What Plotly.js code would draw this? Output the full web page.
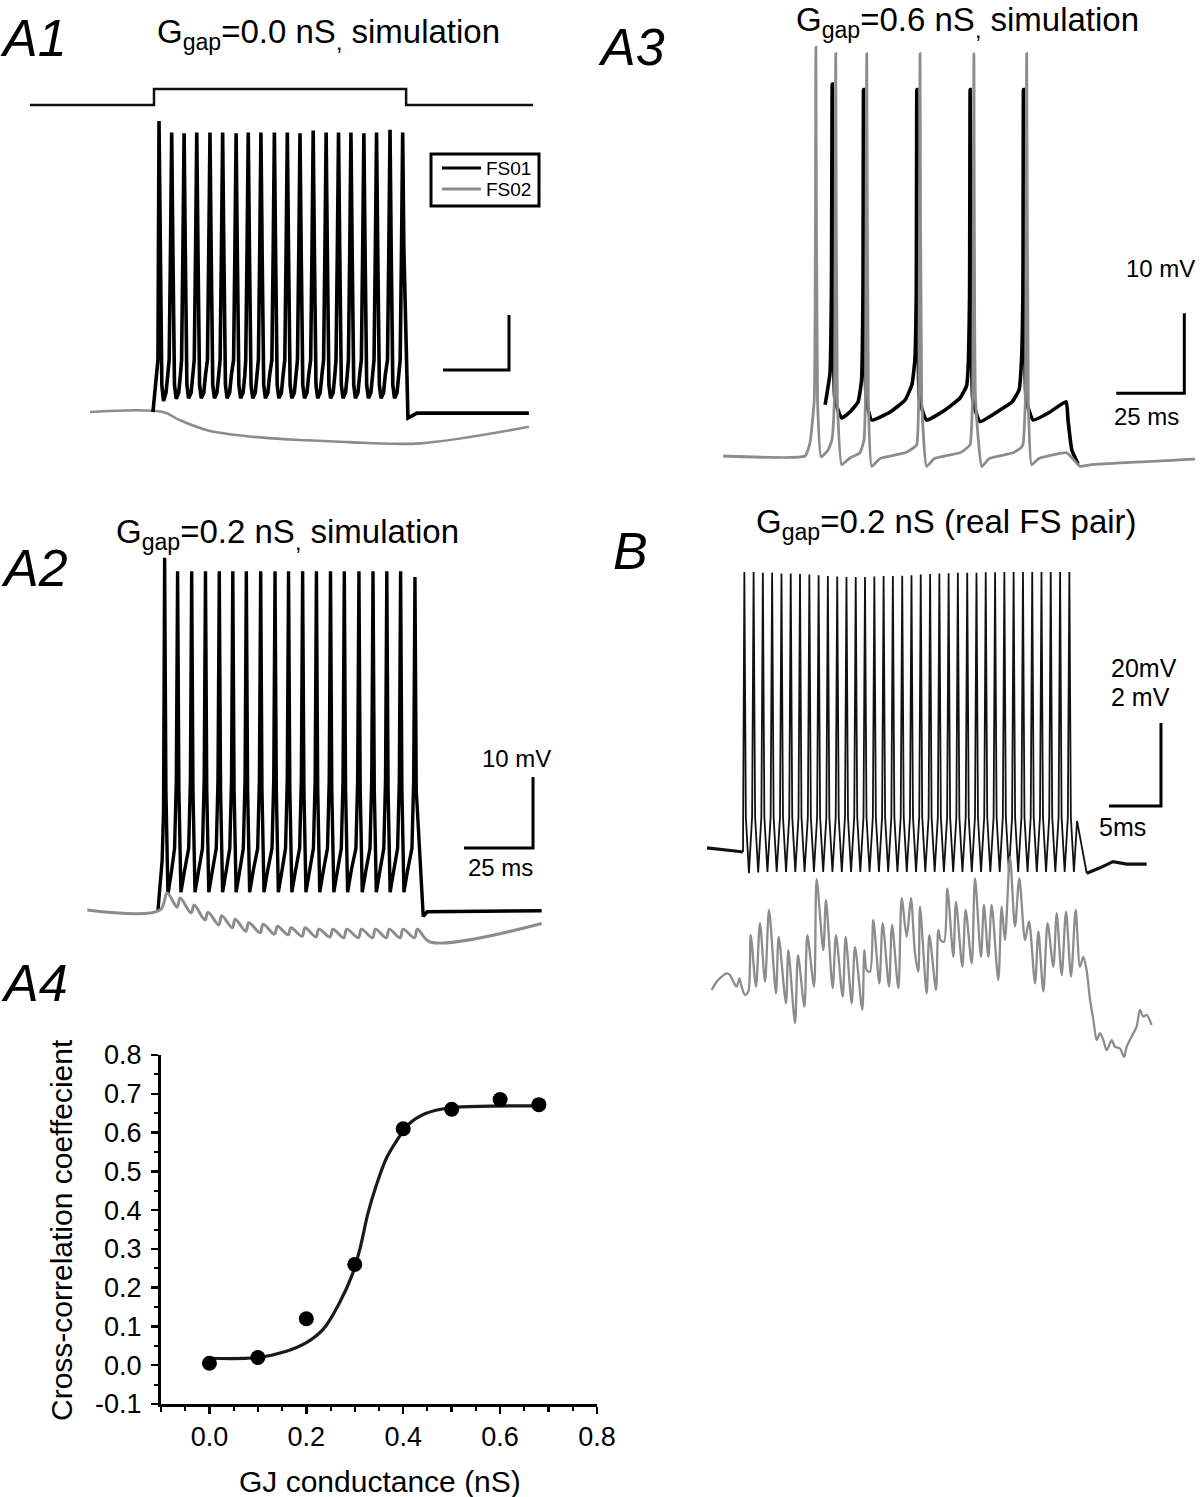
<!DOCTYPE html>
<html>
<head>
<meta charset="utf-8">
<script src="https://cdn.plot.ly/plotly-3.0.1.min.js"></script>
<style>
html,body{margin:0;padding:0;background:#fff;}
#chart{width:1200px;height:1497px;}
</style>
</head>
<body>
<div id="chart"></div>
<script>
// ======================= DATA =======================
// ---- A1 : Ggap = 0.0 nS (time in ms, membrane potential in mV) ----
const a1StimT      = [-47.0, 0, 0, 95.5, 95.5, 143.6];
const a1StimLevel  = [0, 0, 1, 1, 0, 0];               // normalised current step
const a1SpikeT     = [1.9, 6.7, 11.4, 16.2, 21.2, 26.0, 31.1, 35.7, 40.5, 45.6, 50.5, 55.3, 60.3, 65.2, 69.9, 74.6, 79.5, 84.3, 89.4, 94.2];
const a1PeakV      = [-17.1, -19.2, -19.3, -19.2, -19.2, -19.2, -19.3, -19.2, -19.2, -19.2, -19.2, -19.3, -18.8, -19.2, -19.2, -19.2, -19.3, -19.2, -18.7, -19.2];
const a1TroughV    = [-68.0, -67.6, -67.5, -67.5, -67.5, -67.5, -67.5, -67.5, -67.5, -67.5, -67.5, -67.5, -67.5, -67.5, -67.5, -67.5, -67.5, -67.5, -67.5, -67.5];
const a1ShapeDt    = [-0.95, -0.45, 0, 0.45, 1.06, 1.7, 2.65, 3.3];
const a1ShapeV     = [-60.5, -40.5, 'peak', -40.5, -65.1, 'trough', -66.5, -63.3];
const a1LeadT      = [-0.4, 1.5];
const a1LeadV      = [-70.0, -60.5];
const a1TailT      = [96.2, 99.6, 142.0];
const a1TailV      = [-71.1, -70.2, -70.2];
const a1GrayT      = [-24.2, 3.4, 9.8, 20.1, 35.2, 51.5, 70.5, 79.2, 100.8, 142.0];
const a1GrayV      = [-70.0, -70.0, -71.5, -73.3, -74.4, -75.0, -75.4, -75.6, -75.7, -72.7];

// ---- A2 : Ggap = 0.2 nS ----
const a2SpikeT     = [2.4, 7.1, 12.2, 17.2, 22.2, 27.1, 32.0, 37.2, 42.4, 47.3, 52.4, 57.4, 62.5, 67.5, 72.8, 77.9, 82.9, 87.9, 93.1];
const a2PeakV      = [-20.4, -22.3, -22.3, -22.3, -22.3, -22.3, -22.3, -22.3, -22.3, -22.3, -22.3, -22.3, -22.3, -22.3, -22.3, -22.3, -22.3, -22.3, -23.1];
const a2TroughV    = [-67.8, -67.5, -67.5, -67.5, -67.5, -67.5, -67.5, -67.5, -67.5, -67.5, -67.5, -67.5, -67.5, -67.5, -67.5, -67.5, -67.5, -67.5, -67.5];
const a2ShapeDt    = [-1.09, -0.47, 0, 0.47, 0.94, 1.2, 2.54];
const a2ShapeV     = [-61.3, -51.7, 'peak', -53.1, -66.5, 'trough', -64.4];
const a2LeadT      = [0.0, 1.5, 2.0];
const a2LeadV      = [-70.0, -63.0, -56.0];
const a2TailT      = [96.1, 97.5, 139.0];
const a2TailV      = [-70.9, -70.25, -70.1];
const a2GrayLeadT  = [-25.6, 0.7];
const a2GrayLeadV  = [-70.0, -70.0];
const a2GrayPeakV  = [-67.6, -68.3, -69.3, -70.3, -70.8, -71.3, -71.8, -72.0, -72.3, -72.5, -72.5, -72.7, -72.7, -72.7, -72.7, -72.7, -72.7, -72.7, -72.7];
const a2GrayTroughV= [-69.6, -70.4, -71.4, -72.1, -72.5, -73.0, -73.2, -73.4, -73.5, -73.7, -73.8, -73.8, -73.9, -73.9, -73.9, -73.9, -73.9, -73.9];
const a2GrayTailT  = [98.6, 139.0];
const a2GrayTailV  = [-74.5, -71.9];

// ---- A3 : Ggap = 0.6 nS ----
const a3BlackT = [7.4, 9.2, 9.7, 10.0, 10.4, 11.0, 13.5, 16.5, 19.5, 20.8, 21.3, 21.5, 21.9, 22.5, 24.5, 31.3, 36.8, 39.3, 40.4, 40.9, 41.1, 41.5, 42.1, 44.7, 51.5, 57.0, 59.4, 60.1, 60.5, 60.7, 61.1, 61.7, 64.3, 71.7, 76.1, 78.7, 79.6, 80.1, 80.3, 80.7, 81.3, 83.9, 90.1, 96.0, 96.7, 98.1, 100.4];
const a3BlackV = [-63.6, -59.6, -50, -23.5, -45, -63, -65.25, -64.5, -63.25, -60.5, -50, -24.2, -45, -63, -65.5, -64.5, -63.0, -61.1, -58.0, -50, -24.2, -45, -63, -65.5, -64.25, -62.75, -61.25, -58.0, -50, -24.2, -45, -63, -65.7, -64.25, -63.25, -61.75, -58.0, -50, -24.2, -45, -63, -65.5, -64.5, -63.2, -65.5, -69.25, -71.0];
const a3GrayT  = [-30.1, 0, 1.8, 3.4, 4.0, 4.6, 5.9, 8.5, 9.9, 10.8, 11.3, 11.9, 13.5, 16.5, 20.2, 21.7, 22.2, 22.7, 23.3, 24.5, 27.6, 36.8, 39.8, 41.1, 41.8, 42.3, 42.9, 44.7, 47.6, 57.0, 59.5, 60.7, 61.6, 62.1, 62.7, 65.0, 67.8, 76.5, 79.3, 80.1, 81.0, 81.5, 82.1, 83.3, 86.0, 96.2, 98.2, 101.1, 104.8, 143.4];
const a3GrayV  = [-70, -70, -68.4, -63, -18.9, -63, -70.1, -69.25, -68, -63, -19.7, -63, -71.1, -70.25, -69.6, -68, -63, -19.7, -63, -71.3, -70.3, -69.6, -69.0, -68.6, -63, -19.7, -63, -71.3, -70.3, -69.6, -69.0, -68.6, -63, -19.7, -63, -71.3, -70.3, -69.6, -69.0, -68.6, -63, -19.7, -63, -71.1, -70.3, -69.6, -70.25, -71.3, -71.1, -70.4];

// ---- B : real FS pair, Ggap = 0.2 nS ----
const bSpikeT  = [0.13, 1.02, 1.91, 2.80, 3.70, 4.59, 5.48, 6.38, 7.27, 8.16, 9.06, 9.95, 10.84, 11.73, 12.63, 13.52, 14.41, 15.31, 16.20, 17.09, 17.99, 18.88, 19.77, 20.66, 21.56, 22.45, 23.34, 24.24, 25.13, 26.02, 26.92, 27.81, 28.70, 29.59, 30.49, 31.38];
const bPeakV   = [2.0, 2.0, 1.8, 1.8, 1.6, 1.6, 1.5, 1.4, 1.2, 1.0, 0.9, 0.8, 0.8, 0.8, 0.9, 1.0, 1.0, 1.1, 1.2, 1.4, 1.5, 1.6, 1.7, 1.8, 1.8, 1.8, 1.9, 1.9, 2.0, 2.0, 2.0, 2.0, 2.0, 2.0, 2.0, 2.0];
const bTroughV = [-70.6, -70.4, -70.3, -70.3, -70.3, -70.3, -70.3, -70.3, -70.3, -70.3, -70.3, -70.3, -70.3, -70.3, -70.3, -70.3, -70.3, -70.3, -70.3, -70.3, -70.3, -70.3, -70.3, -70.3, -70.3, -70.3, -70.3, -70.3, -70.3, -70.3, -70.3, -70.3, -70.3, -70.3, -70.3, -70.3];
const bShapeDt = [-0.144, 0, 0.144, 0.44];
const bShapeV  = [-57.05, 'peak', -57.05, 'trough'];
const bLeadT   = [0.0];
const bLeadV   = [-65.48];
const bTailT   = [32.12, 33.05];
const bTailV   = [-58.0, -70.6];
const bPreT    = [-3.46, -2.21, -0.77, 0.0];
const bPreV    = [-64.5, -64.76, -65.24, -65.48];
const bPostT   = [33.05, 34.33, 35.58, 36.89, 38.82];
const bPostV   = [-70.6, -69.3, -67.8, -68.4, -68.4];
const bGrayT = [-3.01, -2.53, -2.05, -1.57, -1.25, -0.93, -0.61, -0.35, -0.13, 0.19, 0.51, 0.74, 1.25, 1.63, 2.12, 2.50, 3.17, 3.43, 4.13, 4.36, 5.00, 5.29, 5.90, 6.19, 6.83, 7.08, 7.72, 7.98, 8.62, 8.94, 9.58, 9.87, 10.45, 10.77, 11.47, 11.67, 11.89, 12.21, 12.53, 13.11, 13.43, 14.04, 14.33, 14.94, 15.26, 15.74, 16.15, 16.54, 16.86, 17.02, 17.66, 17.92, 18.56, 18.78, 19.01, 19.33, 19.65, 20.22, 20.48, 21.09, 21.41, 21.99, 22.31, 22.88, 23.17, 23.59, 23.91, 24.55, 24.87, 25.19, 25.67, 26.15, 26.57, 27.12, 27.50, 28.08, 28.40, 28.88, 29.29, 29.84, 30.16, 30.64, 31.06, 31.54, 31.99, 32.40, 32.72, 33.04, 33.37, 33.69, 34.01, 34.33, 34.65, 34.97, 35.45, 35.77, 36.25, 36.63, 36.89, 37.37, 37.85, 38.17, 38.49, 38.81, 39.29];
const bGrayV = [-65.12, -64.92, -64.80, -64.72, -64.76, -64.92, -65.04, -64.84, -65.04, -65.24, -65.16, -63.80, -65.04, -63.51, -64.92, -63.19, -65.20, -63.84, -65.44, -64.16, -65.92, -64.28, -65.52, -63.80, -65.04, -62.45, -64.16, -62.95, -65.08, -63.80, -65.28, -63.84, -65.44, -64.08, -65.60, -64.16, -64.64, -64.68, -63.43, -64.96, -63.51, -65.04, -63.55, -65.08, -62.91, -63.84, -62.91, -64.24, -64.68, -63.11, -65.20, -63.80, -65.12, -63.67, -63.92, -63.96, -62.67, -64.32, -62.99, -64.56, -63.19, -64.48, -62.43, -64.32, -63.07, -64.32, -63.07, -64.88, -63.11, -63.92, -61.91, -63.59, -62.43, -63.92, -63.47, -64.96, -63.71, -65.16, -63.51, -64.56, -63.27, -64.76, -63.23, -64.80, -63.19, -64.56, -64.32, -64.64, -65.36, -65.84, -66.33, -66.16, -66.33, -66.57, -66.33, -66.49, -66.53, -66.73, -66.49, -66.24, -66.00, -65.60, -65.76, -65.72, -65.96];

// ---- A4 : cross-correlation vs GJ conductance ----
const gjConductance = [0.0, 0.1, 0.2, 0.3, 0.4, 0.5, 0.6, 0.68];
const crossCorr     = [0.005, 0.02, 0.12, 0.26, 0.61, 0.66, 0.685, 0.672];
const fitX = [0.0, 0.1, 0.159, 0.2, 0.235, 0.268, 0.294, 0.311, 0.327, 0.344, 0.365, 0.386, 0.412, 0.446, 0.496, 0.58, 0.686];
const fitY = [0.018, 0.02, 0.036, 0.058, 0.093, 0.16, 0.231, 0.302, 0.391, 0.462, 0.533, 0.578, 0.622, 0.649, 0.664, 0.668, 0.669];
const xLabelTickVals = [0.0, 0.2, 0.4, 0.6, 0.8];
const xLabelTickText = ['0.0', '0.2', '0.4', '0.6', '0.8'];
const xPlainTickVals = [-0.1, 0.1, 0.3, 0.5, 0.7];
const yTickVals = [-0.1, 0.0, 0.1, 0.2, 0.3, 0.4, 0.5, 0.6, 0.7, 0.8];
const yTickText = ['-0.1', '0.0', '0.1', '0.2', '0.3', '0.4', '0.5', '0.6', '0.7', '0.8'];
const minorTickVals = [-0.05, 0.05, 0.15, 0.25, 0.35, 0.45, 0.55, 0.65, 0.75];

// ---- text ----
const legendNames = ['FS01', 'FS02'];
const titleA1 = 'G<sub>gap</sub>=0.0 nS<sub>,</sub> simulation';
const titleA2 = 'G<sub>gap</sub>=0.2 nS<sub>,</sub> simulation';
const titleA3 = 'G<sub>gap</sub>=0.6 nS<sub>,</sub> simulation';
const titleB  = 'G<sub>gap</sub>=0.2 nS (real FS pair)';

// ======================= BUILDERS =======================
function buildTrain(o){
  const t = o.leadT.slice(), v = o.leadV.slice();
  const n = o.spikeT.length;
  o.spikeT.forEach((tp, i) => {
    o.shapeDt.forEach((d, k) => {
      if (i === 0 && d < 0) return;
      if (i === n - 1 && d > o.lastDtMax) return;
      const s = o.shapeV[k];
      t.push(+(tp + d).toFixed(3));
      v.push(s === 'peak' ? o.peakV[i] : (s === 'trough' ? o.troughV[i] : s));
    });
  });
  return {t: t.concat(o.tailT), v: v.concat(o.tailV)};
}
function buildRipple(o){
  const t = o.leadT.slice(), v = o.leadV.slice();
  const n = o.spikeT.length;
  o.spikeT.forEach((tp, i) => {
    t.push(+(tp + o.lag).toFixed(3)); v.push(o.peakV[i]);
    if (i < n - 1) { t.push(+(o.spikeT[i + 1] - o.pre).toFixed(3)); v.push(o.troughV[i]); }
  });
  return {t: t.concat(o.tailT), v: v.concat(o.tailV)};
}

const a1Black = buildTrain({leadT:a1LeadT, leadV:a1LeadV, spikeT:a1SpikeT, peakV:a1PeakV, troughV:a1TroughV,
  shapeDt:a1ShapeDt, shapeV:a1ShapeV, lastDtMax:0.45, tailT:a1TailT, tailV:a1TailV});
const a2Black = buildTrain({leadT:a2LeadT, leadV:a2LeadV, spikeT:a2SpikeT, peakV:a2PeakV, troughV:a2TroughV,
  shapeDt:a2ShapeDt, shapeV:a2ShapeV, lastDtMax:0.47, tailT:a2TailT, tailV:a2TailV});
const a2Gray = buildRipple({leadT:a2GrayLeadT, leadV:a2GrayLeadV, spikeT:a2SpikeT, lag:0.9, pre:0.2,
  peakV:a2GrayPeakV, troughV:a2GrayTroughV, tailT:a2GrayTailT, tailV:a2GrayTailV});
const bBlack = buildTrain({leadT:bLeadT, leadV:bLeadV, spikeT:bSpikeT, peakV:bPeakV, troughV:bTroughV,
  shapeDt:bShapeDt, shapeV:bShapeV, lastDtMax:0.44, tailT:bTailT, tailV:bTailV});

// ======================= LAYOUT HELPERS =======================
const W = 1200, H = 1497;
const FONT = 'Liberation Sans, Arial, Helvetica, sans-serif';
const BLACK = '#000000', GRAY = '#8c8c8c';
const dx = (a, b) => [a / W, b / W];
const dy = (top, bottom) => [1 - bottom / H, 1 - top / H];
const hid = (o) => Object.assign({visible:false, fixedrange:true, showgrid:false, zeroline:false}, o);
function ann(text, xp, yp, size, extra){
  return Object.assign({text:text, x:xp / W, y:1 - yp / H, xref:'paper', yref:'paper', showarrow:false,
    xanchor:'center', yanchor:'middle', borderpad:0, font:{family:FONT, size:size, color:'#000'}}, extra || {});
}
function bar(xref, yref, path){
  return {type:'path', xref:xref, yref:yref, path:path, line:{color:'#000', width:3}};
}
function pline(x0, y0, x1, y1, color, width){
  return {type:'line', xref:'paper', yref:'paper', x0:x0 / W, x1:x1 / W, y0:1 - y0 / H, y1:1 - y1 / H,
          line:{color:color, width:width}};
}

// ======================= TRACES =======================
const lineTr = (x, y, xa, ya, color, width, shape, extra) => Object.assign({
  type:'scatter', mode:'lines', x:x, y:y, xaxis:xa, yaxis:ya, hoverinfo:'skip',
  line:{color:color, width:width, shape:shape || 'linear'}, showlegend:false, cliponaxis:false}, extra || {});

const data = [
  // A1
  lineTr(a1StimT, a1StimLevel, 'x', 'y6', '#111', 2.5),
  lineTr(a1GrayT, a1GrayV, 'x', 'y', GRAY, 2.6, 'spline', {name:legendNames[1]}),
  lineTr(a1Black.t, a1Black.v, 'x', 'y', BLACK, 3.6, 'linear', {name:legendNames[0]}),
  // A2
  lineTr(a2Black.t, a2Black.v, 'x2', 'y2', BLACK, 3.4),
  lineTr(a2Gray.t, a2Gray.v, 'x2', 'y2', GRAY, 3, 'spline'),
  // A3
  lineTr(a3BlackT, a3BlackV, 'x3', 'y3', BLACK, 3.6, 'spline', {line:{color:BLACK, width:3.6, shape:'spline', smoothing:0.4}}),
  lineTr(a3GrayT, a3GrayV, 'x3', 'y3', GRAY, 2.8, 'spline', {line:{color:GRAY, width:2.8, shape:'spline', smoothing:0.4}}),
  // B
  lineTr(bPreT, bPreV, 'x4', 'y4', '#111', 3.2),
  lineTr(bBlack.t, bBlack.v, 'x4', 'y4', '#111', 1.8),
  lineTr(bPostT, bPostV, 'x4', 'y4', '#111', 3.2),
  lineTr(bGrayT, bGrayV, 'x4', 'y7', GRAY, 2.3, 'spline', {line:{color:GRAY, width:2.3, shape:'spline', smoothing:0.8}}),
  // A4
  lineTr(fitX, fitY, 'x5', 'y5', '#1a1a1a', 3.2, 'spline'),
  {type:'scatter', mode:'markers', x:gjConductance, y:crossCorr, xaxis:'x5', yaxis:'y5', hoverinfo:'skip',
   marker:{color:'#000', size:15}, showlegend:false, cliponaxis:false},
  // unlabeled 0.1-step ticks of A4's x axis
  {type:'scatter', mode:'markers', x:[], y:[], xaxis:'x6', yaxis:'y5', hoverinfo:'skip', showlegend:false}
];

// ======================= LAYOUT =======================
const tickFont = {family:FONT, size:27, color:'#000'};
const layout = {
  width:W, height:H, margin:{l:0, r:0, t:0, b:0, pad:0}, autosize:false,
  paper_bgcolor:'#ffffff', plot_bgcolor:'rgba(0,0,0,0)',
  font:{family:FONT, color:'#000'},
  showlegend:false,
  xaxis:  hid({domain:dx(20, 560),  range:[-50.76, 153.79], anchor:'y'}),
  yaxis:  hid({domain:dy(110, 460), range:[-78.73, -15.09], anchor:'x'}),
  yaxis6: hid({domain:dy(80, 110),  range:[-0.3125, 1.5625], anchor:'x'}),
  xaxis2: hid({domain:dx(60, 560),  range:[-35.51, 145.65], anchor:'y2'}),
  yaxis2: hid({domain:dy(540, 960), range:[-77.04, -17.89], anchor:'x2'}),
  xaxis3: hid({domain:dx(700, 1200), range:[-38.60, 145.22], anchor:'y3'}),
  yaxis3: hid({domain:dy(30, 480),   range:[-73.0, -16.75], anchor:'x3'}),
  xaxis4: hid({domain:dx(690, 1170), range:[-5.096, 41.058], anchor:'y4'}),
  yaxis4: hid({domain:dy(560, 890),  range:[-74.64, 4.88], anchor:'x4'}),
  yaxis7: hid({domain:dy(840, 1070), range:[-67.048, -61.506], anchor:'x4'}),
  xaxis5: {domain:dx(161, 597), range:[-0.1, 0.8], anchor:'y5', fixedrange:true,
           showline:true, linewidth:3, linecolor:'#000', showgrid:false, zeroline:false,
           ticks:'outside', ticklen:7, tickwidth:2.5, tickcolor:'#000',
           tickmode:'array', tickvals:xLabelTickVals, ticktext:xLabelTickText, tickfont:tickFont, ticklabelstandoff:0,
           minor:{tickmode:'array', tickvals:minorTickVals, ticks:'outside', ticklen:4, tickwidth:2, tickcolor:'#000', showgrid:false}},
  xaxis6: {overlaying:'x5', anchor:'y5', side:'bottom', range:[-0.1, 0.8], fixedrange:true,
           showline:false, showgrid:false, zeroline:false, showticklabels:false,
           ticks:'outside', ticklen:7, tickwidth:2.5, tickcolor:'#000',
           tickmode:'array', tickvals:xPlainTickVals},
  yaxis5: {domain:dy(1055, 1404), range:[-0.1, 0.8], anchor:'x5', fixedrange:true,
           showline:true, linewidth:3, linecolor:'#000', showgrid:false, zeroline:false,
           ticks:'outside', ticklen:7, tickwidth:2.5, tickcolor:'#000',
           tickmode:'array', tickvals:yTickVals, ticktext:yTickText, tickfont:tickFont, ticklabelstandoff:4,
           minor:{tickmode:'array', tickvals:minorTickVals, ticks:'outside', ticklen:4, tickwidth:2, tickcolor:'#000', showgrid:false}},
  shapes:[
    bar('x', 'y',  'M 109.47,-62.36 L 134.47,-62.36 L 134.47,-52.36'),
    bar('x2','y2', 'M 110.87,-61.27 L 135.87,-61.27 L 135.87,-51.27'),
    bar('x3','y3', 'M 114.45,-62.16 L 139.45,-62.16 L 139.45,-52.16'),
    bar('x4','y4', 'M 35.19,-54.40 L 40.19,-54.40 L 40.19,-34.40'),
    // A1 legend box and keys
    {type:'rect', xref:'paper', yref:'paper', x0:431 / W, x1:539 / W, y0:1 - 206 / H, y1:1 - 154 / H,
     line:{color:'#000', width:3}, fillcolor:'rgba(255,255,255,0)'},
    pline(442, 168, 481, 168, BLACK, 3),
    pline(442, 189, 481, 189, GRAY, 3)
  ],
  annotations:[
    ann('<i>A1</i>', 33, 38, 52),
    ann('<i>A2</i>', 34, 568, 52),
    ann('<i>A3</i>', 632, 47, 52),
    ann('<i>B</i>', 630, 551, 52),
    ann('<i>A4</i>', 34, 983, 52),
    ann(titleA1, 328, 34, 33),
    ann(titleA2, 287, 534, 33),
    ann(titleA3, 967, 0, 33, {yanchor:'top'}),
    ann(titleB, 946, 524, 33),
    ann(legendNames[0], 485, 168, 19, {xanchor:'left'}),
    ann(legendNames[1], 485, 189, 19, {xanchor:'left'}),
    ann('10 mV', 516, 759, 24),
    ann('25 ms', 500, 867, 24),
    ann('10 mV', 1160, 268, 24),
    ann('25 ms', 1146, 417, 24),
    ann('20mV', 1110, 668, 25, {xanchor:'left'}),
    ann('2 mV', 1110, 697, 25, {xanchor:'left'}),
    ann('5ms', 1122, 827, 25),
    ann('Cross-correlation coeffecient', 61, 1230, 30, {textangle:-90}),
    ann('GJ conductance (nS)', 380, 1481, 30)
  ]
};

Plotly.newPlot('chart', data, layout, {staticPlot:true, displayModeBar:false});
</script>
</body>
</html>
